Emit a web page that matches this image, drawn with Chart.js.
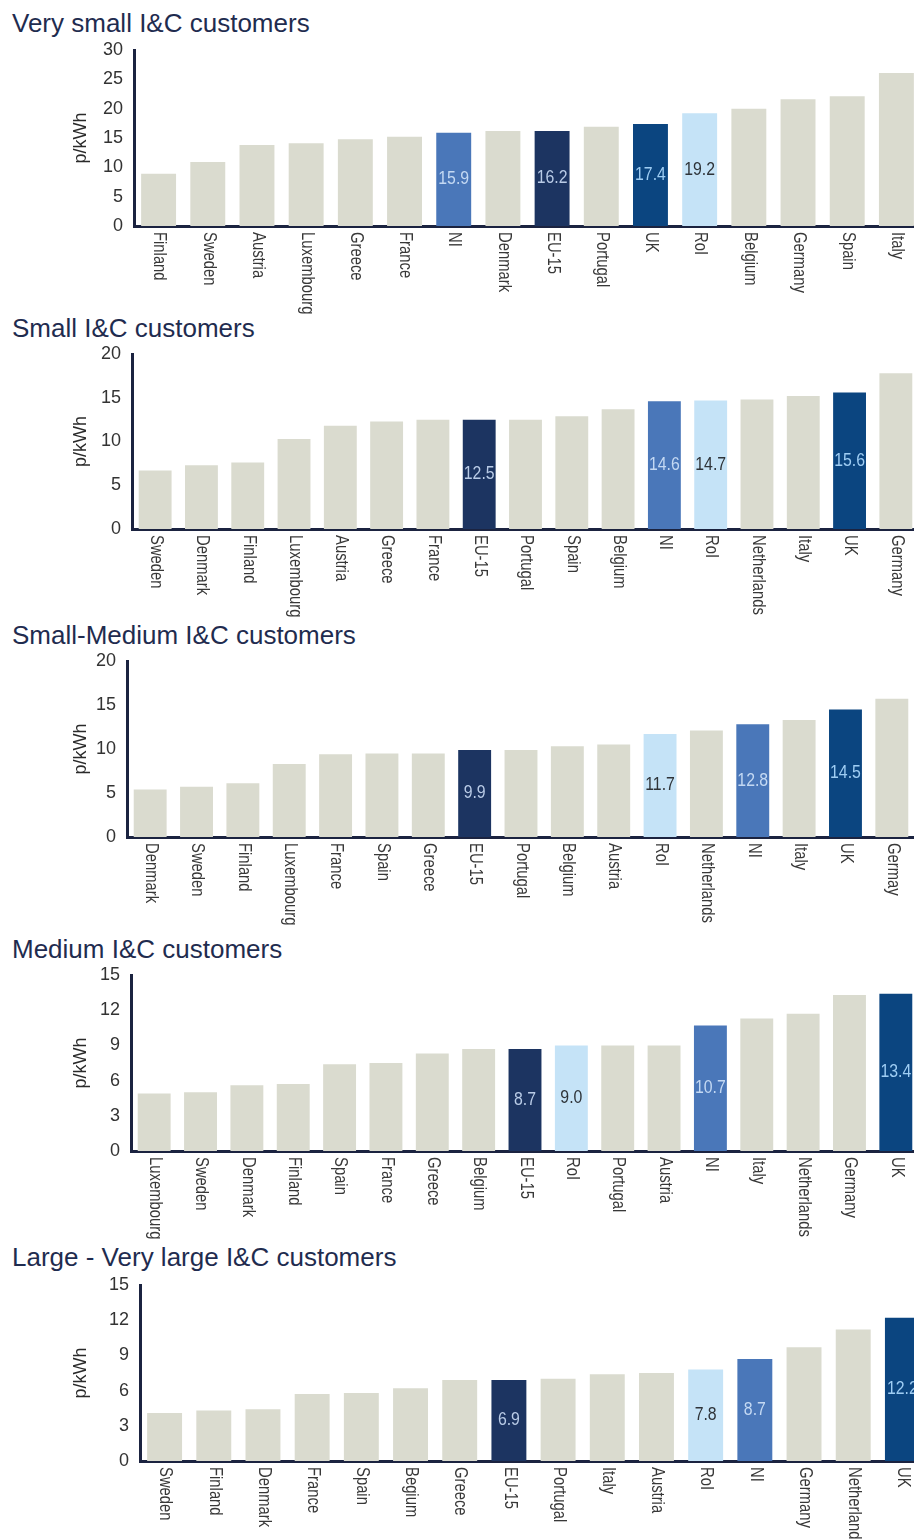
<!DOCTYPE html>
<html>
<head>
<meta charset="utf-8">
<title>I&amp;C electricity prices</title>
<script src="https://cdn.jsdelivr.net/npm/chart.js@4.4.1/dist/chart.umd.min.js"></script>
<style>
  html, body { margin: 0; padding: 0; background: #fff; }
  body { width: 914px; height: 1540px; position: relative; overflow: hidden;
         font-family: "Liberation Sans", Arial, sans-serif; }
  .title { position: absolute; left: 12px; font-size: 26px; line-height: 26px;
           color: #1f2c4f; white-space: nowrap; }
  canvas { position: absolute; left: 0; }
</style>
</head>
<body>
<div class="title" style="top:10px">Very small I&amp;C customers</div>
<div class="title" style="top:315px">Small I&amp;C customers</div>
<div class="title" style="top:622px">Small-Medium I&amp;C customers</div>
<div class="title" style="top:936px">Medium I&amp;C customers</div>
<div class="title" style="top:1244px">Large - Very large I&amp;C customers</div>

<canvas id="verySmall"></canvas>
<canvas id="small"></canvas>
<canvas id="smallMedium"></canvas>
<canvas id="medium"></canvas>
<canvas id="large"></canvas>

<script>
// ---- data (p/kWh) ----
const verySmallCountries = ["Finland", "Sweden", "Austria", "Luxembourg", "Greece", "France", "NI", "Denmark",
  "EU-15", "Portugal", "UK", "RoI", "Belgium", "Germany", "Spain", "Italy"];
const verySmallPrices = [8.9, 10.9, 13.8, 14.1, 14.8, 15.2, 15.9, 16.2, 16.2, 16.9, 17.4, 19.2, 20.0, 21.6, 22.1, 26.1];

const smallCountries = ["Sweden", "Denmark", "Finland", "Luxembourg", "Austria", "Greece", "France", "EU-15",
  "Portugal", "Spain", "Belgium", "NI", "RoI", "Netherlands", "Italy", "UK", "Germany"];
const smallPrices = [6.7, 7.3, 7.6, 10.3, 11.8, 12.3, 12.5, 12.5, 12.5, 12.9, 13.7, 14.6, 14.7, 14.8, 15.2, 15.6, 17.8];

const smallMediumCountries = ["Denmark", "Sweden", "Finland", "Luxembourg", "France", "Spain", "Greece", "EU-15",
  "Portugal", "Belgium", "Austria", "RoI", "Netherlands", "NI", "Italy", "UK", "Germay"];
const smallMediumPrices = [5.4, 5.7, 6.1, 8.3, 9.4, 9.5, 9.5, 9.9, 9.9, 10.3, 10.5, 11.7, 12.1, 12.8, 13.3, 14.5, 15.7];

const mediumCountries = ["Luxembourg", "Sweden", "Denmark", "Finland", "Spain", "France", "Greece", "Belgium",
  "EU-15", "RoI", "Portugal", "Austria", "NI", "Italy", "Netherlands", "Germany", "UK"];
const mediumPrices = [4.9, 5.0, 5.6, 5.7, 7.4, 7.5, 8.3, 8.7, 8.7, 9.0, 9.0, 9.0, 10.7, 11.3, 11.7, 13.3, 13.4];

const largeCountries = ["Sweden", "Finland", "Denmark", "France", "Spain", "Begium", "Greece", "EU-15",
  "Portugal", "Italy", "Austria", "RoI", "NI", "Germany", "Netherlands", "UK"];
const largePrices = [4.1, 4.3, 4.4, 5.7, 5.8, 6.2, 6.9, 6.9, 7.0, 7.4, 7.5, 7.8, 8.7, 9.7, 11.2, 12.2];

// y axis ranges
const axisMax = [30, 20, 20, 15, 15];
const axisStep = [5, 5, 5, 3, 3];

// ---- styling ----
const FONT = '"Liberation Sans", Arial, sans-serif';
const GREY = "#dadbcf";
const highlights = {
  "NI":    { bar: "#4a77b9", text: "#c4d9f3" },
  "EU-15": { bar: "#1c3461", text: "#b9cbe6" },
  "UK":    { bar: "#0b4580", text: "#9fcdf3" },
  "RoI":   { bar: "#c5e3f7", text: "#2e3338" },
};

// where each panel sits: y-axis x, top of scale, zero line, right edge of the category band
const panels = [
  { id: "verySmall",   names: verySmallCountries,   values: verySmallPrices,   axisX: 134, top: 50,   bottom: 226,  right: 921 },
  { id: "small",       names: smallCountries,       values: smallPrices,       axisX: 132, top: 354,  bottom: 529,  right: 919 },
  { id: "smallMedium", names: smallMediumCountries, values: smallMediumPrices, axisX: 127, top: 661,  bottom: 837,  right: 915 },
  { id: "medium",      names: mediumCountries,      values: mediumPrices,      axisX: 131, top: 975,  bottom: 1151, right: 919 },
  { id: "large",       names: largeCountries,       values: largePrices,       axisX: 140, top: 1285, bottom: 1461, right: 927 },
];

const PAD_TOP = 14;
const PAD_BOTTOM = 100;

// country names (reading downwards), values inside the coloured bars, unit title
const panelLabels = {
  id: "panelLabels",
  afterDatasetsDraw(chart) {
    const { ctx, chartArea, scales: { x } } = chart;
    const names = chart.data.labels;
    const values = chart.data.datasets[0].data;
    const meta = chart.getDatasetMeta(0);

    ctx.save();
    ctx.font = "19px " + FONT;
    ctx.fillStyle = "#383838";
    ctx.textAlign = "left";
    ctx.textBaseline = "middle";
    names.forEach((name, i) => {
      ctx.save();
      ctx.translate(x.getPixelForTick(i) + 1, chartArea.bottom + 6);
      ctx.rotate(Math.PI / 2);
      ctx.scale(0.78, 1);
      ctx.fillText(name, 0, 0);
      ctx.restore();
    });

    ctx.font = "18px " + FONT;
    ctx.textAlign = "center";
    meta.data.forEach((bar, i) => {
      const h = highlights[names[i]];
      if (!h) return;
      ctx.save();
      ctx.translate(bar.x, (bar.y + bar.base) / 2);
      ctx.scale(0.88, 1);
      ctx.fillStyle = h.text;
      ctx.fillText(values[i].toFixed(1), 0, 0);
      ctx.restore();
    });

    ctx.font = "18px " + FONT;
    ctx.fillStyle = "#2a2a2a";
    ctx.translate(81, (chartArea.top + chartArea.bottom) / 2);
    ctx.rotate(-Math.PI / 2);
    ctx.fillText("p/kWh", 0, 0);
    ctx.restore();
  }
};

function drawPanel(p, idx) {
  const canvas = document.getElementById(p.id);
  const w = p.right;
  const h = PAD_TOP + (p.bottom - p.top) + PAD_BOTTOM;
  canvas.width = w;
  canvas.height = h;
  canvas.style.width = w + "px";
  canvas.style.height = h + "px";
  canvas.style.top = (p.top - PAD_TOP) + "px";

  new Chart(canvas.getContext("2d"), {
    type: "bar",
    data: {
      labels: p.names,
      datasets: [{
        data: p.values,
        backgroundColor: p.names.map(n => highlights[n] ? highlights[n].bar : GREY),
        borderWidth: 0,
        categoryPercentage: 1,
        barPercentage: 0.71,
      }],
    },
    options: {
      responsive: false,
      animation: false,
      devicePixelRatio: 1,
      layout: { padding: { left: 0, right: 0, top: PAD_TOP, bottom: PAD_BOTTOM } },
      plugins: { legend: { display: false }, tooltip: { enabled: false }, title: { display: false } },
      scales: {
        x: {
          grid: { display: false },
          border: { display: true, color: "#1b2340", width: 3 },
          ticks: { display: false },
          afterFit: s => { s.height = 0; s.paddingLeft = 0; s.paddingRight = 0; },
        },
        y: {
          min: 0,
          max: axisMax[idx],
          grid: { display: false },
          border: { display: true, color: "#1b2340", width: 3 },
          ticks: {
            stepSize: axisStep[idx],
            padding: 3,
            color: "#333",
            font: { family: FONT, size: 18 },
          },
          afterFit: s => { s.width = p.axisX; s.paddingTop = 0; s.paddingBottom = 0; },
        },
      },
    },
    plugins: [panelLabels],
  });
}

panels.forEach(drawPanel);
</script>
</body>
</html>
